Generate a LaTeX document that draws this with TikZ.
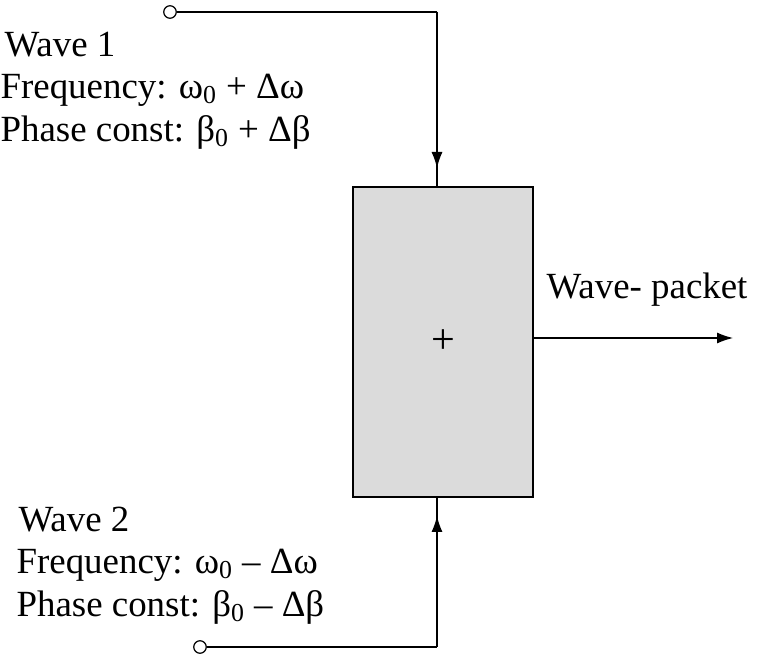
\documentclass[tikz,border=0pt]{standalone}
\usepackage{fontspec}
\setmainfont{Liberation Serif}
\usetikzlibrary{arrows.meta}
\tikzset{
  lbl/.style={anchor=west, inner sep=0pt, font=\fontsize{21}{25}\selectfont},
  port/.style={circle, draw, inner sep=0pt, minimum size=0.25cm, fill=white},
  tip/.style={-{Latex[length=0.32cm,width=0.22cm]}}
}
\begin{document}
\begin{tikzpicture}[x=0.02cm, y=-0.02cm, line width=0.7pt]
  \path[use as bounding box] (0, 0) rectangle (758, 658);

  % summing box
  \node[draw, fill=black!14, minimum width=3.6cm, minimum height=6.2cm, inner sep=0pt,
        font=\fontsize{24}{28}\selectfont] (sum) at (443, 342) {+};

  % inputs
  \coordinate (c1) at (437, 12);
  \coordinate (c2) at (437, 647);
  \coordinate (m1) at (437, 168);
  \coordinate (m2) at (437, 516);
  \draw (c1) -- (sum.north -| c1);
  \draw (c2) -- (sum.south -| c2);
  \draw[tip] (c1) -- (m1);
  \draw[tip] (c2) -- (m2);
  \node[port] (in1) at (170, 12) {};
  \node[port] (in2) at (200, 647) {};
  \draw (in1) -- (c1);
  \draw (in2) -- (c2);

  % output
  \coordinate (out) at (733, 338);
  \draw[tip] (sum.east |- out) -- (out);
  \node[lbl] (wp) at (546, 290) {Wave- packet};

  % labels
  \node[lbl] (w1) at (4, 45) {Wave 1};
  \node[lbl] (f1) at (0, 90) {Frequency: ω\textsubscript{0} + Δω};
  \node[lbl] (p1) at (0, 132) {Phase const: β\textsubscript{0} + Δβ};
  \node[lbl] (w2) at (18, 520) {Wave 2};
  \node[lbl] (f2) at (16, 565) {Frequency: ω\textsubscript{0} – Δω};
  \node[lbl] (p2) at (16, 607) {Phase const: β\textsubscript{0} – Δβ};
\end{tikzpicture}
\end{document}
